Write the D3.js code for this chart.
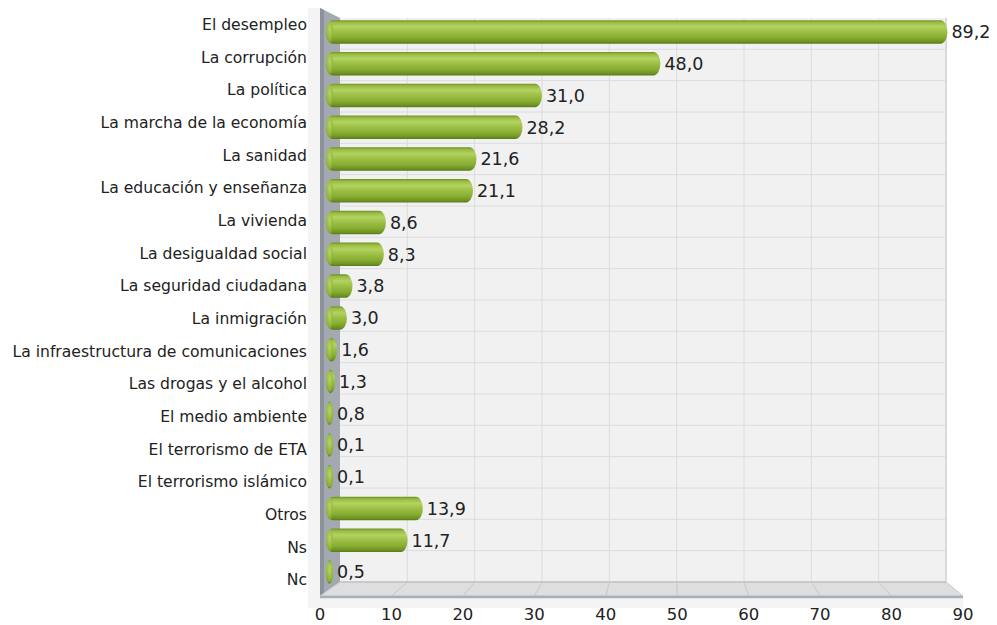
<!DOCTYPE html>
<html>
<head>
<meta charset="utf-8">
<script src="https://cdn.jsdelivr.net/npm/d3@7"></script>
<style>
  body { margin: 0; background: #fff; }
  text { font-family: "DejaVu Sans", Verdana, sans-serif; fill: #222; }
</style>
</head>
<body>
<div class="chart"></div>
<script>
var categories = ['El desempleo', 'La corrupción', 'La política', 'La marcha de la economía',
  'La sanidad', 'La educación y enseñanza', 'La vivienda', 'La desigualdad social',
  'La seguridad ciudadana', 'La inmigración', 'La infraestructura de comunicaciones',
  'Las drogas y el alcohol', 'El medio ambiente', 'El terrorismo de ETA',
  'El terrorismo islámico', 'Otros', 'Ns', 'Nc'];
var values = [89.2, 48.0, 31.0, 28.2, 21.6, 21.1, 8.6, 8.3, 3.8, 3.0, 1.6, 1.3, 0.8, 0.1, 0.1, 13.9, 11.7, 0.5];
var ticks = [0, 10, 20, 30, 40, 50, 60, 70, 80, 90];

var width = 997, height = 625;

// 3D box: back wall and front edge
var back = { x0: 340, x1: 946, y0: 18, y1: 582 };
var front = { x0: 320, x1: 963, y0: 8, y1: 596 };

var svg = d3.select('.chart')
  .append('svg')
  .attr('width', width)
  .attr('height', height);

var xBack = d3.scaleLinear().domain([0, 90]).range([back.x0, back.x1]);
var xFront = d3.scaleLinear().domain([0, 90]).range([front.x0, front.x1]);
var xBar = d3.scaleLinear().domain([0, 90]).range([326, 953]);

var yBack = d3.scaleBand().domain(categories).range([back.y0, back.y1]);
var yFront = d3.scaleBand().domain(categories).range([front.y0, front.y1]);
var yBar = d3.scaleBand().domain(categories).range([16, 588]);

var defs = svg.append('defs');
var grad = defs.append('linearGradient')
  .attr('id', 'barGrad')
  .attr('x1', 0).attr('y1', 0).attr('x2', 0).attr('y2', 1);
[[0, '#6f9124'], [0.1, '#99bd43'], [0.28, '#b4d262'], [0.45, '#a0c349'],
 [0.75, '#87ac30'], [0.92, '#6d9122'], [1, '#58781b']].forEach(function(s) {
  grad.append('stop').attr('offset', s[0]).attr('stop-color', s[1]);
});
var capGrad = defs.append('radialGradient')
  .attr('id', 'capGrad')
  .attr('cx', 0.5).attr('cy', 0.4).attr('r', 0.65);
capGrad.append('stop').attr('offset', 0).attr('stop-color', '#b9d56a');
capGrad.append('stop').attr('offset', 0.7).attr('stop-color', '#93b83e');
capGrad.append('stop').attr('offset', 1).attr('stop-color', '#7da22c');

// faint plot backdrop
svg.append('rect').attr('x', 308).attr('y', front.y0).attr('width', front.x0 - 308)
  .attr('height', front.y1 - front.y0).style('fill', '#f4f4f4');
svg.append('rect').attr('x', 308).attr('y', front.y1).attr('width', front.x1 - 308)
  .attr('height', 12).style('fill', '#f4f4f4');

// back wall
svg.append('rect')
  .attr('x', back.x0).attr('y', back.y0)
  .attr('width', back.x1 - back.x0).attr('height', back.y1 - back.y0)
  .style('fill', '#f1f1f1');

// grid on back wall
svg.selectAll('.vgrid')
  .data(ticks.slice(1, -1))
  .enter()
  .append('line')
  .attr('class', 'vgrid')
  .attr('x1', d => xBack(d)).attr('x2', d => xBack(d))
  .attr('y1', back.y0).attr('y2', back.y1)
  .style('stroke', '#dcdcdc').style('stroke-width', 1);

svg.selectAll('.hgrid')
  .data(categories.slice(1))
  .enter()
  .append('line')
  .attr('class', 'hgrid')
  .attr('x1', back.x0).attr('x2', back.x1)
  .attr('y1', d => yBack(d)).attr('y2', d => yBack(d))
  .style('stroke', '#dcdcdc').style('stroke-width', 1);

svg.append('line')
  .attr('x1', back.x1).attr('x2', back.x1)
  .attr('y1', back.y0).attr('y2', back.y1)
  .style('stroke', '#d6d9de').style('stroke-width', 2);

// left wall
svg.append('polygon')
  .attr('points', [[front.x0, front.y0], [back.x0, back.y0], [back.x0, back.y1], [front.x0, front.y1]].join(' '))
  .style('fill', '#a4a9b1');
svg.append('polygon')
  .attr('points', [[front.x0, front.y0], [front.x0 + 4, front.y0 + 2], [front.x0 + 4, front.y1 - 2], [front.x0, front.y1]].join(' '))
  .style('fill', '#8c929b');

// floor
svg.append('polygon')
  .attr('points', [[back.x0, back.y1], [back.x1, back.y1], [front.x1, front.y1], [front.x0, front.y1]].join(' '))
  .style('fill', '#dedede')
  .style('stroke', '#c4c9d0').style('stroke-width', 1);
svg.selectAll('.fgrid')
  .data(ticks.slice(1, -1))
  .enter()
  .append('line')
  .attr('class', 'fgrid')
  .attr('x1', d => xBack(d)).attr('x2', d => xFront(d))
  .attr('y1', back.y1).attr('y2', front.y1)
  .style('stroke', '#c8c8c8').style('stroke-width', 1);
svg.append('line')
  .attr('x1', front.x0).attr('x2', front.x1)
  .attr('y1', front.y1 + 1).attr('y2', front.y1 + 1)
  .style('stroke', '#a7b0bb').style('stroke-width', 2.5);
svg.append('line')
  .attr('x1', back.x0).attr('x2', back.x1)
  .attr('y1', back.y1).attr('y2', back.y1)
  .style('stroke', '#bfc5cc').style('stroke-width', 1.5);

// bars
var bh = 23.5;
var barLeft = xBar(0);
function barRight(v) { return Math.max(xBar(v), barLeft + 7); }

var bars = svg.selectAll('.bar')
  .data(values)
  .enter()
  .append('g')
  .attr('class', 'bar');

bars.append('rect')
  .attr('x', barLeft)
  .attr('y', (d, i) => yBar(categories[i]) + yBar.bandwidth() / 2 - bh / 2)
  .attr('width', d => barRight(d) - barLeft)
  .attr('height', bh)
  .attr('rx', d => Math.min(7, (barRight(d) - barLeft) / 2))
  .attr('ry', bh / 2)
  .style('fill', 'url(#barGrad)');

bars.append('ellipse')
  .attr('cx', barLeft + 3.6)
  .attr('cy', (d, i) => yBar(categories[i]) + yBar.bandwidth() / 2)
  .attr('rx', 3.4)
  .attr('ry', bh / 2 - 1)
  .style('fill', 'url(#capGrad)')
  .style('opacity', 0.85);

// value labels
svg.selectAll('.val')
  .data(values)
  .enter()
  .append('text')
  .attr('class', 'val')
  .attr('x', d => barRight(d) + 4)
  .attr('y', (d, i) => yBar(categories[i]) + yBar.bandwidth() / 2)
  .attr('dy', '0.36em')
  .style('font-size', '17.5px')
  .text(d => d.toFixed(1).replace('.', ','));

// category labels
svg.selectAll('.cat')
  .data(categories)
  .enter()
  .append('text')
  .attr('class', 'cat')
  .attr('x', 307)
  .attr('y', d => yFront(d) + yFront.bandwidth() / 2)
  .attr('dy', '0.36em')
  .style('text-anchor', 'end')
  .style('font-size', '15.6px')
  .text(d => d);

// x tick labels
svg.selectAll('.tick')
  .data(ticks)
  .enter()
  .append('text')
  .attr('class', 'tick')
  .attr('x', d => xFront(d))
  .attr('y', 614)
  .attr('dy', '0.36em')
  .style('text-anchor', 'middle')
  .style('font-size', '16.5px')
  .text(d => d);
</script>
</body>
</html>
